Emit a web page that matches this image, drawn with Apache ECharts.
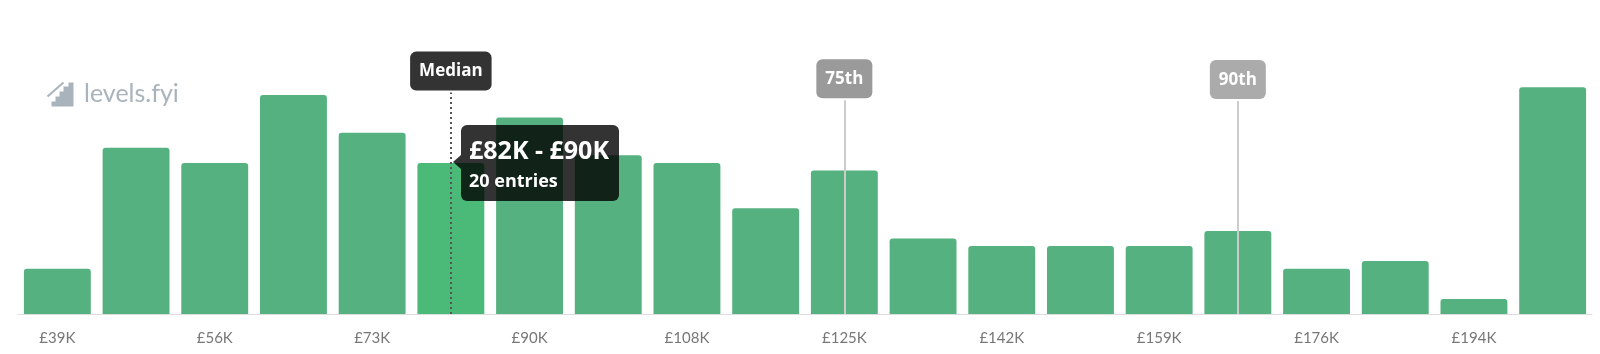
<!DOCTYPE html>
<html>
<head>
<meta charset="utf-8">
<script src="https://cdn.jsdelivr.net/npm/echarts@6/dist/echarts.min.js"></script>
<style>
html,body{margin:0;padding:0;background:#fff;}
#chart{width:1600px;height:354px;}
</style>
</head>
<body>
<div id="chart"></div>
<script>
// Salary bins (start of each bin, in £K)
var binStarts = [39, 47, 56, 64, 73, 82, 90, 99, 108, 116, 125, 133, 142, 150, 159, 168, 176, 185, 194, 202];
// Number of entries per bin
var binCounts = [6, 22, 20, 29, 24, 20, 26, 21, 20, 14, 19, 10, 9, 9, 9, 11, 6, 7, 2, 30];
// Percentile markers: label and the bin they fall into
var pctLabels = ['Median', '75th', '90th'];
var pctBins = [5, 10, 15];
var pctLineTop = [29.3, 28.3, 28.2];
var highlightBin = 5;

var categories = binStarts.map(function (v) { return '£' + v + 'K'; });

var chart = echarts.init(document.getElementById('chart'), null, { renderer: 'canvas' });

var boxFont = '"Open Sans", "Noto Sans", sans-serif';
var pctStyles = [
  { line: { color: '#555', width: 2, type: [2, 3] }, bg: '#333333' },
  { line: { color: '#cccccc', width: 2, type: 'solid' }, bg: '#9a9a9a' },
  { line: { color: '#cccccc', width: 2, type: 'solid' }, bg: '#ababab' }
];

var markData = pctLabels.map(function (lbl, i) {
  return [
    { coord: [pctBins[i], 0], lineStyle: pctStyles[i].line,
      label: { show: true, position: 'end', formatter: lbl, distance: 2,
        color: '#fff', fontWeight: 'bold', fontSize: 17, fontFamily: boxFont, lineHeight: 20,
        backgroundColor: pctStyles[i].bg, borderRadius: 6, padding: [10, 9, 9, 9] } },
    { coord: [pctBins[i], pctLineTop[i]] }
  ];
});

var option = {
  animation: false,
  grid: { left: 18, right: 8, top: 42, bottom: 40 },
  graphic: [
    {
      type: 'group', left: 45, top: 80,
      children: [
        { type: 'polygon', shape: { points: [[4,24],[4,19],[8,19],[8,14],[12,14],[12,9],[16,9],[16,4],[21,4],[21,0],[26,0],[26,24]] },
          style: { fill: '#a9b3bb' } },
        { type: 'line', shape: { x1: 0, y1: 14, x2: 16, y2: 0 }, style: { stroke: '#a9b3bb', lineWidth: 2 } }
      ]
    },
    {
      type: 'text', left: 84, top: 81,
      style: { text: 'levels.fyi', fill: '#a9b3bb', fontSize: 25, fontFamily: 'Lato, "Noto Sans", sans-serif' }
    }
  ],
  tooltip: {
    trigger: 'item',
    triggerOn: 'none',
    alwaysShowContent: true,
    backgroundColor: 'rgba(0,0,0,0.8)',
    borderWidth: 0,
    borderRadius: 6,
    padding: [6, 10, 8, 8],
    extraCssText: 'box-shadow:none;',
    position: function (point, params, dom, rect, size) {
      return [rect.x + rect.width / 2 + 10, rect.y - size.contentSize[1] / 2];
    },
    formatter: function (p) {
      var i = p.dataIndex;
      return '<div style="position:relative;font-family:' + boxFont.replace(/"/g, '\'') + ';color:#fff;font-weight:bold;">' +
        '<div style="position:absolute;left:-16px;top:50%;margin-top:-7px;width:0;height:0;border-top:7px solid transparent;border-bottom:7px solid transparent;border-right:8px solid rgba(0,0,0,0.8);"></div>' +
        '<div style="font-size:25px;line-height:36px;white-space:nowrap;">' + categories[i] + ' - ' + categories[i + 1] + '</div>' +
        '<div style="font-size:18px;line-height:26px;white-space:nowrap;">' + binCounts[i] + ' entries</div></div>';
    }
  },
  xAxis: {
    type: 'category',
    data: categories,
    axisLine: { lineStyle: { color: '#dddddd', width: 1 } },
    axisTick: { show: false },
    axisLabel: { interval: 1, color: '#777', fontSize: 15, margin: 17, fontFamily: 'Lato, "Noto Sans", sans-serif' }
  },
  yAxis: {
    type: 'value', min: 0, max: 36, show: false, splitLine: { show: false }
  },
  series: [{
    type: 'bar',
    barCategoryGap: '15%',
    data: binCounts.map(function (v, i) {
      return i === highlightBin ? { value: v, itemStyle: { color: '#4bba78' } } : v;
    }),
    itemStyle: { color: '#55b17f', borderRadius: [3, 3, 0, 0] },
    emphasis: { disabled: true },
    markLine: {
      silent: true,
      symbol: ['none', 'none'],
      z: 5,
      data: markData
    }
  }]
};

chart.setOption(option);
chart.dispatchAction({ type: 'showTip', seriesIndex: 0, dataIndex: highlightBin });
</script>
</body>
</html>
